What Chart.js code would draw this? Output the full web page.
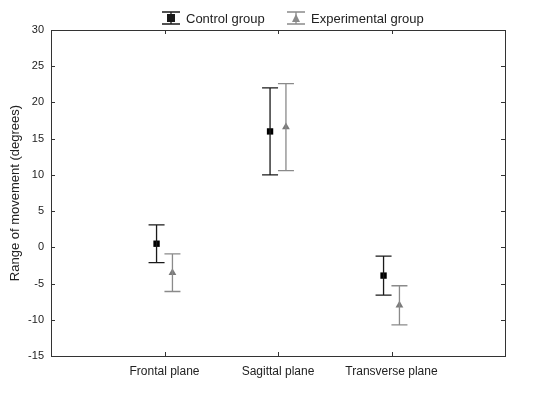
<!DOCTYPE html>
<html>
<head>
<meta charset="utf-8">
<script src="https://cdn.jsdelivr.net/npm/chart.js@4.4.1/dist/chart.umd.min.js"></script>
<style>
  html, body { margin: 0; padding: 0; background: #fff; }
  #wrap { width: 534px; height: 395px; }
</style>
</head>
<body>
<div id="wrap"><canvas id="rangeChart" width="534" height="395"></canvas></div>
<script>
// data
const categories = ["Frontal plane", "Sagittal plane", "Transverse plane"];
const controlMean = [0.5, 16, -3.9];
const controlErr = [2.6, 6, 2.7];
const experimentalMean = [-3.5, 16.6, -8];
const experimentalErr = [2.6, 6, 2.7];
const yTicks = [-15, -10, -5, 0, 5, 10, 15, 20, 25, 30];

const seriesNames = ["Control group", "Experimental group"];
const offset = 0.07;

let ctx = document.getElementById("rangeChart").getContext("2d");

function points(means, shift){
    let arr = [];
    for(let i in means){
        arr.push({x: Number(i) + 1 + shift, y: means[i]});
    }
    return arr;
}

// error bars, inward ticks, box and legend
const extras = {
    id: "extras",
    afterDatasetsDraw(chart){
        let c = chart.ctx;
        let xs = chart.scales.x, ys = chart.scales.y;
        let sets = [
            {means: controlMean, errs: controlErr, shift: -offset, color: "#1a1a1a", width: 1.3},
            {means: experimentalMean, errs: experimentalErr, shift: offset, color: "#8a8a8a", width: 1.3}
        ];
        c.save();
        sets.forEach(s => {
            c.strokeStyle = s.color;
            c.lineWidth = s.width;
            for(let i in s.means){
                let px = xs.getPixelForValue(Number(i) + 1 + s.shift);
                let top = ys.getPixelForValue(s.means[i] + s.errs[i]);
                let bot = ys.getPixelForValue(s.means[i] - s.errs[i]);
                c.beginPath();
                c.moveTo(px, top); c.lineTo(px, bot);
                c.moveTo(px - 8, top); c.lineTo(px + 8, top);
                c.moveTo(px - 8, bot); c.lineTo(px + 8, bot);
                c.stroke();
            }
        });
        c.restore();
    },
    afterDraw(chart){
        let c = chart.ctx;
        let a = chart.chartArea;
        let xs = chart.scales.x, ys = chart.scales.y;
        c.save();
        c.strokeStyle = "#333";
        c.lineWidth = 1;
        c.strokeRect(Math.round(a.left) + 0.5, Math.round(a.top) + 0.5, Math.round(a.right - a.left), Math.round(a.bottom - a.top));
        c.beginPath();
        yTicks.forEach(t => {
            let py = Math.round(ys.getPixelForValue(t)) + 0.5;
            c.moveTo(a.left, py); c.lineTo(a.left + 4, py);
            c.moveTo(a.right, py); c.lineTo(a.right - 4, py);
        });
        for(let i = 1; i <= categories.length; i++){
            let px = Math.round(xs.getPixelForValue(i)) + 0.5;
            c.moveTo(px, a.bottom); c.lineTo(px, a.bottom - 4);
            c.moveTo(px, a.top); c.lineTo(px, a.top + 4);
        }
        c.stroke();

        // legend
        let items = [
            {x: 171, text: seriesNames[0], color: "#1a1a1a", marker: "square"},
            {x: 296, text: seriesNames[1], color: "#8a8a8a", marker: "triangle"}
        ];
        c.font = "13px 'Liberation Sans', Arial, sans-serif";
        c.textBaseline = "middle";
        items.forEach(it => {
            let cy = 18;
            c.strokeStyle = it.color;
            c.lineWidth = 1.3;
            c.beginPath();
            c.moveTo(it.x - 9, cy - 6); c.lineTo(it.x + 9, cy - 6);
            c.moveTo(it.x - 9, cy + 6); c.lineTo(it.x + 9, cy + 6);
            c.moveTo(it.x, cy - 6); c.lineTo(it.x, cy + 6);
            c.stroke();
            c.fillStyle = it.color;
            c.beginPath();
            if(it.marker == "square"){
                c.rect(it.x - 4, cy - 4, 8, 8);
            } else {
                c.moveTo(it.x, cy - 4); c.lineTo(it.x + 4, cy + 4); c.lineTo(it.x - 4, cy + 4); c.closePath();
            }
            c.fill();
            c.fillStyle = "#222";
            c.fillText(it.text, it.x + 15, cy + 1);
        });
        c.restore();
    }
};

let chart = new Chart(ctx, {
    type: "scatter",
    data: {
        datasets: [{
            label: seriesNames[0],
            data: points(controlMean, -offset),
            pointStyle: "rect",
            pointRadius: 4.5,
            backgroundColor: "#000",
            borderColor: "#000",
            borderWidth: 0
        }, {
            label: seriesNames[1],
            data: points(experimentalMean, offset),
            pointStyle: "triangle",
            pointRadius: 4.5,
            backgroundColor: "#7a7a7a",
            borderColor: "#7a7a7a",
            borderWidth: 0
        }]
    },
    options: {
        responsive: false,
        animation: false,
        layout: { padding: { top: 30, right: 29, left: 0, bottom: 0 } },
        plugins: {
            legend: { display: false },
            tooltip: { enabled: false }
        },
        scales: {
            x: {
                type: "linear",
                min: 0,
                max: categories.length + 1,
                afterBuildTicks: scale => {
                    scale.ticks = categories.map((c, i) => ({value: i + 1}));
                },
                afterFit: scale => { scale.height = 39; },
                ticks: {
                    autoSkip: false,
                    maxRotation: 0,
                    padding: 8,
                    color: "#222",
                    font: { family: "'Liberation Sans', Arial, sans-serif", size: 12 },
                    callback: v => categories[v - 1]
                },
                grid: { display: false, drawTicks: false },
                border: { display: false }
            },
            y: {
                min: -15,
                max: 30,
                afterBuildTicks: scale => {
                    scale.ticks = yTicks.map(v => ({value: v}));
                },
                afterFit: scale => { scale.width = 51; },
                ticks: {
                    padding: 7,
                    color: "#222",
                    font: { family: "'Liberation Sans', Arial, sans-serif", size: 11 }
                },
                title: {
                    display: true,
                    text: "Range of movement (degrees)",
                    color: "#222",
                    padding: { top: 8, bottom: 2 },
                    font: { family: "'Liberation Sans', Arial, sans-serif", size: 13 }
                },
                grid: { display: false, drawTicks: false },
                border: { display: false }
            }
        }
    },
    plugins: [extras]
});
</script>
</body>
</html>
